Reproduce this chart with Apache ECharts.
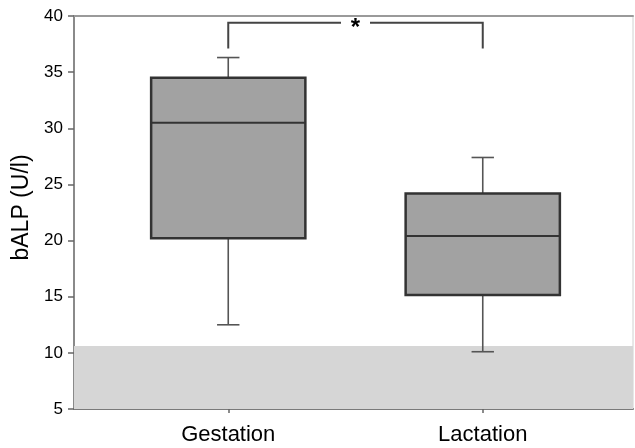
<!DOCTYPE html>
<html>
<head>
<meta charset="utf-8">
<script src="https://cdn.jsdelivr.net/npm/echarts@6/dist/echarts.min.js"></script>
<style>html,body{margin:0;padding:0;background:#fff;}#c{width:635px;height:448px;}</style>
</head>
<body>
<div id="c"></div>
<script>
// ---- data ----
var categories = ['Gestation', 'Lactation'];
var whiskerLow = [12.5, 10.1];
var quartile1 = [20.2, 15.15];
var medians = [30.5, 20.4];
var quartile3 = [34.5, 24.2];
var whiskerHigh = [36.3, 27.4];
var referenceRange = [5, 10.6];
var yMin = 5, yMax = 40, yStep = 5;
var yTitle = 'bALP (U/l)';
var bracketTop = 39.4;
var bracketEnds = [37.1, 37.1];
var sigMark = '*';

var boxData = categories.map(function (c, i) {
  return [i, whiskerLow[i], quartile1[i], medians[i], quartile3[i], whiskerHigh[i]];
});

var FONT = 'Liberation Sans, Arial, sans-serif';
var chart = echarts.init(document.getElementById('c'), null, {renderer: 'canvas'});

var option = {
  animation: false,
  backgroundColor: '#fff',
  grid: [
    {left: 74, right: 2, top: 16, bottom: 39, show: true, borderColor: '#d0d0d0', borderWidth: 1, backgroundColor: 'transparent'},
    {left: 101, right: 25, top: 16, bottom: 39}
  ],
  xAxis: [
    {type: 'value', gridIndex: 0, min: 0, max: 1, axisLine: {show: true, onZero: false, lineStyle: {color: '#7a7a7a', width: 2}},
      axisTick: {show: false}, axisLabel: {show: false}, splitLine: {show: false}},
    {type: 'value', gridIndex: 0, position: 'top', min: 0, max: 1, axisLine: {show: true, onZero: false, lineStyle: {color: '#9a9a9a', width: 2}},
      axisTick: {show: false}, axisLabel: {show: false}, splitLine: {show: false}},
    {type: 'category', gridIndex: 1, data: categories, boundaryGap: true,
      axisLine: {show: false}, axisTick: {show: true, alignWithLabel: true, length: 4, lineStyle: {color: '#666', width: 1.5}},
      axisLabel: {color: '#000', fontSize: 22, fontFamily: FONT, margin: 15}, splitLine: {show: false}}
  ],
  yAxis: [
    {type: 'value', gridIndex: 0, min: yMin, max: yMax, interval: yStep,
      name: yTitle, nameLocation: 'middle', nameGap: 40, nameRotate: 90,
      nameTextStyle: {color: '#000', fontSize: 23, fontFamily: FONT, padding: [0, 0, 0, 10]},
      axisLine: {show: true, lineStyle: {color: '#8a8a8a', width: 2}},
      axisTick: {show: true, length: 6, lineStyle: {color: '#666', width: 1.5}},
      axisLabel: {color: '#000', fontSize: 17, fontFamily: FONT, margin: 11},
      splitLine: {show: false}},
    {type: 'value', gridIndex: 1, min: yMin, max: yMax, interval: yStep, show: false}
  ],
  series: [
    {
      type: 'custom', xAxisIndex: 0, yAxisIndex: 0, z: 1,
      data: [referenceRange],
      renderItem: function (params, api) {
        var cs = params.coordSys;
        var yTop = api.coord([0, api.value(1)])[1];
        var yBot = api.coord([0, api.value(0)])[1];
        return {type: 'rect', shape: {x: cs.x, y: yTop, width: cs.width, height: yBot - yTop},
          style: {fill: '#d6d6d6'}};
      }
    },
    {
      type: 'custom', xAxisIndex: 2, yAxisIndex: 1, z: 3,
      data: boxData,
      renderItem: function (params, api) {
        var idx = api.value(0);
        var band = api.size([1, 0])[0];
        var half = band * 0.303;
        var cap = band * 0.044;
        var pLow = api.coord([idx, api.value(1)]);
        var pQ1 = api.coord([idx, api.value(2)]);
        var pMed = api.coord([idx, api.value(3)]);
        var pQ3 = api.coord([idx, api.value(4)]);
        var pHigh = api.coord([idx, api.value(5)]);
        var cx = pMed[0];
        var wStyle = {stroke: '#555', lineWidth: 1.6};
        return {type: 'group', children: [
          {type: 'line', shape: {x1: cx, y1: pQ3[1], x2: cx, y2: pHigh[1]}, style: wStyle},
          {type: 'line', shape: {x1: cx - cap, y1: pHigh[1], x2: cx + cap, y2: pHigh[1]}, style: wStyle},
          {type: 'line', shape: {x1: cx, y1: pQ1[1], x2: cx, y2: pLow[1]}, style: wStyle},
          {type: 'line', shape: {x1: cx - cap, y1: pLow[1], x2: cx + cap, y2: pLow[1]}, style: wStyle},
          {type: 'rect', shape: {x: cx - half, y: pQ3[1], width: 2 * half, height: pQ1[1] - pQ3[1]},
            style: {fill: '#a2a2a2', stroke: '#333', lineWidth: 2.5}},
          {type: 'line', shape: {x1: cx - half, y1: pMed[1], x2: cx + half, y2: pMed[1]},
            style: {stroke: '#333', lineWidth: 2}}
        ]};
      }
    },
    {
      type: 'custom', xAxisIndex: 2, yAxisIndex: 1, z: 4,
      data: [[0, 1, bracketTop, bracketEnds[0], bracketEnds[1]]],
      renderItem: function (params, api) {
        var pL = api.coord([api.value(0), api.value(2)]);
        var pR = api.coord([api.value(1), api.value(2)]);
        var yL = api.coord([api.value(0), api.value(3)])[1];
        var yR = api.coord([api.value(1), api.value(4)])[1];
        var mid = (pL[0] + pR[0]) / 2;
        var gap = 14.5;
        var st = {stroke: '#444', lineWidth: 2, fill: 'none'};
        return {type: 'group', children: [
          {type: 'polyline', shape: {points: [[pL[0], yL], [pL[0], pL[1]], [mid - gap, pL[1]]]}, style: st},
          {type: 'polyline', shape: {points: [[mid + gap, pR[1]], [pR[0], pR[1]], [pR[0], yR]]}, style: st},
          {type: 'text', x: mid, y: pL[1] + 6, style: {text: sigMark, fill: '#000', font: 'bold 24px ' + FONT,
            align: 'center', verticalAlign: 'middle'}}
        ]};
      }
    }
  ]
};
chart.setOption(option);
</script>
</body>
</html>
